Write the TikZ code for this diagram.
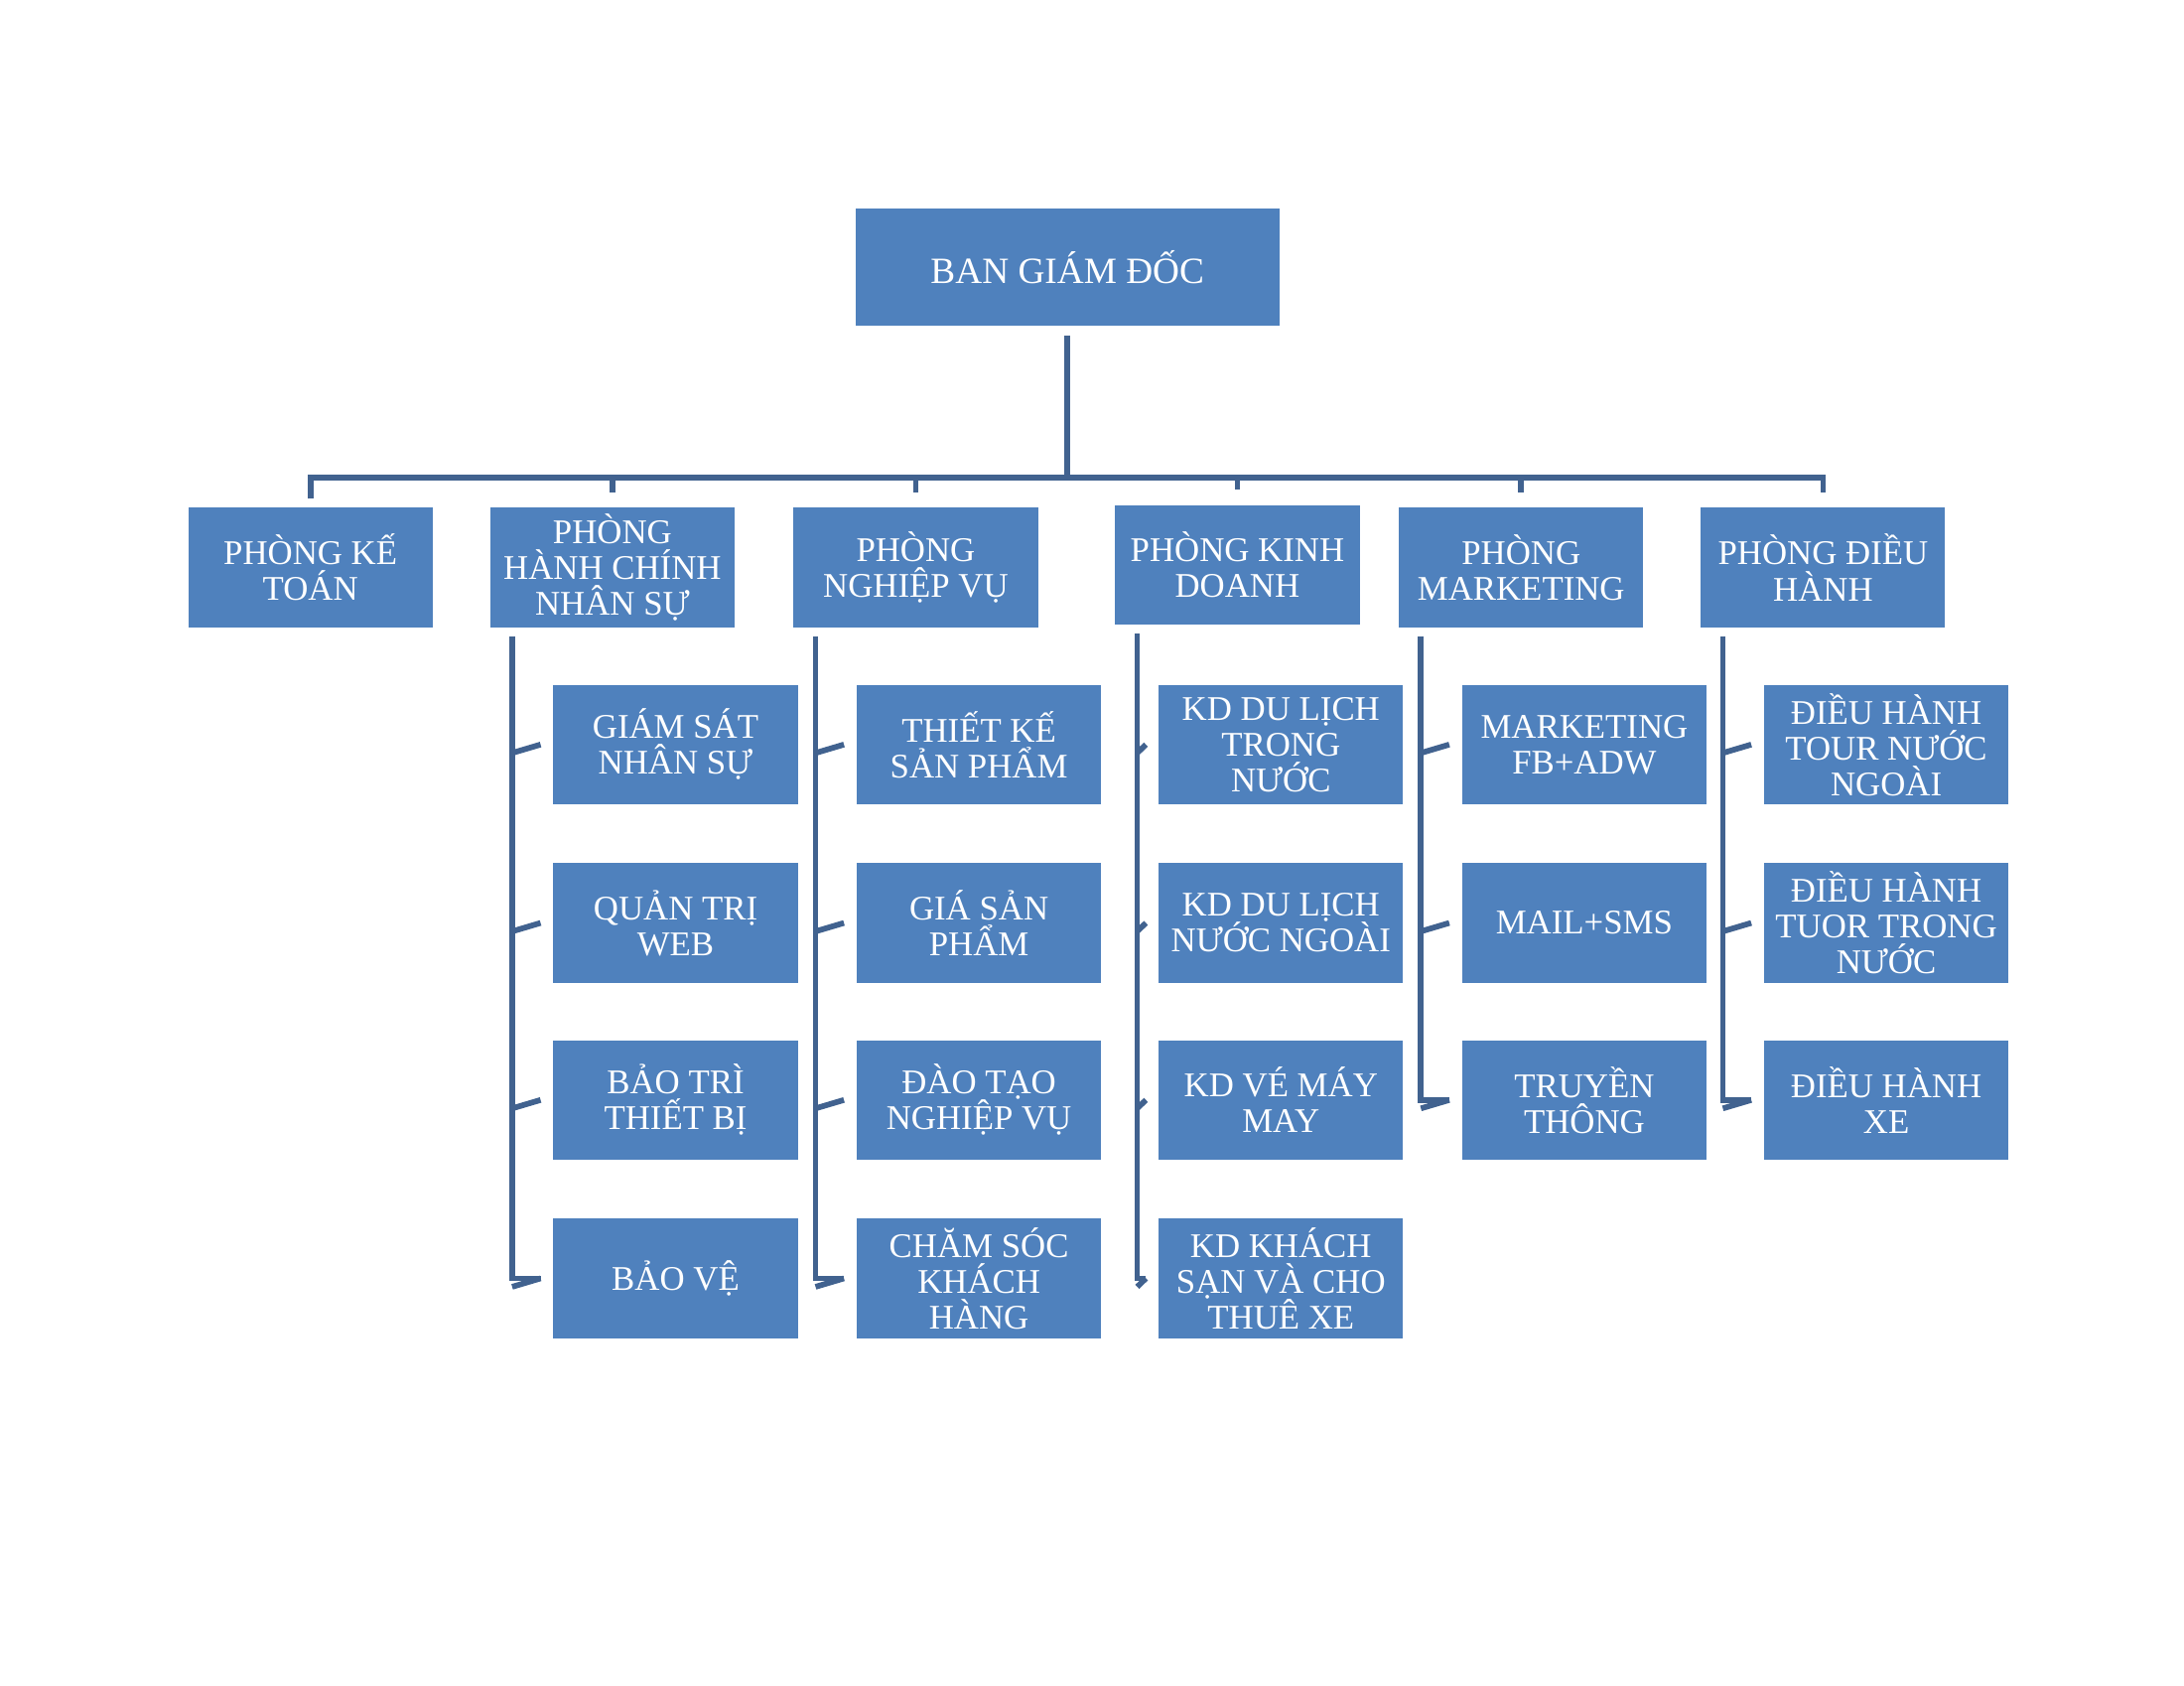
\documentclass[tikz,border=0pt]{standalone}
\usepackage{fontspec}
\setmainfont{Liberation Serif}
\definecolor{boxblue}{HTML}{4F81BD}
\definecolor{lineblue}{HTML}{41628F}
\begin{document}
\begin{tikzpicture}[x=0.02cm,y=-0.02cm,
  box/.style={rectangle,fill=boxblue,text=white,minimum width=3.48cm,minimum height=1.7cm,
    inner sep=0pt,align=center,font=\fontsize{14}{14.5}\selectfont},
  link/.style={draw=lineblue,line width=2.3pt}]
  \useasboundingbox (0,0) rectangle (1555,1200);
  \node [box,minimum width=6.04cm,minimum height=1.66cm,font=\fontsize{15}{16}\selectfont] (top) at (760,190) {BAN GIÁM ĐỐC};
  % phong ban
  \node [box] (kt) at (221,404) {PHÒNG KẾ\\TOÁN};
  \node [box] (hc) at (436,404) {PHÒNG\\HÀNH CHÍNH\\NHÂN SỰ};
  \node [box] (nv) at (652,404) {PHÒNG\\NGHIỆP VỤ};
  \node [box] (kd) at (881,402) {PHÒNG KINH\\DOANH};
  \node [box] (mk) at (1083,404) {PHÒNG\\MARKETING};
  \node [box] (dh) at (1298,404) {PHÒNG ĐIỀU\\HÀNH};
  % bo phan
  \node [box] (hc1) at (481,530) {GIÁM SÁT\\NHÂN SỰ};
  \node [box] (hc2) at (481,657) {QUẢN TRỊ\\WEB};
  \node [box] (hc3) at (481,783) {BẢO TRÌ\\THIẾT BỊ};
  \node [box] (hc4) at (481,910) {BẢO VỆ};
  \node [box] (nv1) at (697,530) {THIẾT KẾ\\SẢN PHẨM};
  \node [box] (nv2) at (697,657) {GIÁ SẢN\\PHẨM};
  \node [box] (nv3) at (697,783) {ĐÀO TẠO\\NGHIỆP VỤ};
  \node [box] (nv4) at (697,910) {CHĂM SÓC\\KHÁCH\\HÀNG};
  \node [box] (kd1) at (912,530) {KD DU LỊCH\\TRONG\\NƯỚC};
  \node [box] (kd2) at (912,657) {KD DU LỊCH\\NƯỚC NGOÀI};
  \node [box] (kd3) at (912,783) {KD VÉ MÁY\\MAY};
  \node [box] (kd4) at (912,910) {KD KHÁCH\\SẠN VÀ CHO\\THUÊ XE};
  \node [box] (mk1) at (1128,530) {MARKETING\\FB+ADW};
  \node [box] (mk2) at (1128,657) {MAIL+SMS};
  \node [box] (mk3) at (1128,783) {TRUYỀN\\THÔNG};
  \node [box] (dh1) at (1343,530) {ĐIỀU HÀNH\\TOUR NƯỚC\\NGOÀI};
  \node [box] (dh2) at (1343,657) {ĐIỀU HÀNH\\TUOR TRONG\\NƯỚC};
  \node [box] (dh3) at (1343,783) {ĐIỀU HÀNH\\XE};
  % duong noi
  \coordinate (bus) at (760,340);
  \draw [link] ([yshift=-4]top.south) -- (bus);
  \draw [link] (kt.north) ++(0,-6) |- (bus) -| ([yshift=6]dh.north);
  \foreach \p in {hc,nv,kd,mk}
    \draw [link] ([yshift=6]\p.north) -- (\p.north |- bus);
  \foreach \p/\n in {hc/4,nv/4,kd/4,mk/3,dh/3}{
    \draw [link] ([shift={(16,6)}]\p.south west) |- ([xshift=-5]\p\n.west);
    \foreach \c in {1,...,\n}
      \draw [link] ([shift={(16,6)}]\p.south west |- \p\c.west) -- ([xshift=-5]\p\c.west);
  }
\end{tikzpicture}
\end{document}
